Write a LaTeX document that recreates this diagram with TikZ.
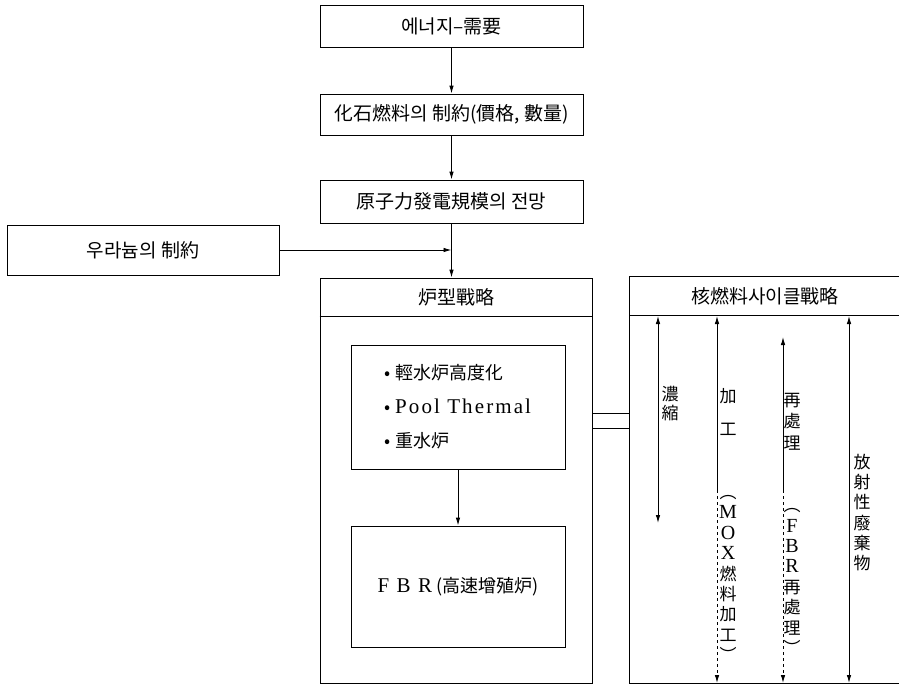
\documentclass[tikz,border=0pt]{standalone}
\usepackage{fontspec}
\setmainfont{Noto Sans CJK KR}
\newfontfamily\lat[LetterSpace=10]{Liberation Serif}
\usetikzlibrary{arrows.meta}
\begin{document}
\begin{tikzpicture}[x=1pt,y=-1pt,
  lw/.style={line width=0.9pt},
  box/.style={draw, line width=0.9pt, inner sep=0pt, align=center, font=\fontsize{19}{22}\selectfont},
  ttl/.style={inner sep=0pt, font=\fontsize{19}{22}\selectfont},
  arr/.style={line width=0.9pt, -{Latex[length=8pt,width=4.5pt]}},
  arrb/.style={line width=0.9pt, {Latex[length=8pt,width=4.5pt]}-{Latex[length=8pt,width=4.5pt]}},
  arrt/.style={line width=0.9pt, {Latex[length=8pt,width=4.5pt]}-},
  vt/.style={align=center, inner sep=0pt, font=\fontsize{17}{#1}\selectfont}]
\useasboundingbox (0,0) rectangle (899,685);
% top chain
\node[box, minimum width=263pt, minimum height=42pt] (e1) at (451.5,26) {에너지–需要};
\node[box, minimum width=263pt, minimum height=41pt] (e2) at (451.5,114.5) {化石燃料의 制約(價格, 數量)};
\node[box, minimum width=263pt, minimum height=43pt] (e3) at (451.5,201.5) {原子力發電規模의 전망};
\node[box, minimum width=272pt, minimum height=50pt] (ur) at (143,250) {우라늄의 制約};
% reactor strategy box
\node[box, minimum width=272pt, minimum height=405pt] (rt) at (456,480.5) {};
\node[ttl] (rtt) at (456,297.5) {炉型戰略};
\draw[lw] ([yshift=-39pt]rt.north west) -- ([yshift=-39pt]rt.north east);
\node[box, minimum width=214pt, minimum height=124pt, font=\fontsize{18}{34}\selectfont, align=left] (lwr) at (458,407)
  {• 輕水炉高度化\\• {\lat\fontsize{21}{34}\selectfont Pool Thermal}\\• 重水炉};
\node[box, minimum width=214pt, minimum height=121pt, font=\fontsize{18}{22}\selectfont] (fbr) at (458,586.5)
  {{\lat\fontsize{21}{22}\selectfont F B R} (高速增殖炉)};
% fuel cycle strategy box
\node[inner sep=0pt, minimum width=269pt, minimum height=406pt] (fc) at (764.5,480) {};
\draw[lw] (fc.north east) -- (fc.north west) -- (fc.south west) -- (fc.south east);
\node[ttl] (fct) at (765,296.5) {核燃料사이클戰略};
\draw[lw] ([yshift=-39pt]fc.north west) -- ([yshift=-39pt]fc.north east);
% connectors
\draw[arr] (e1) -- (e2);
\draw[arr] (e2) -- (e3);
\draw[arr] (e3.south) -- (e3.south |- rt.north);
\draw[arr] (ur.east) -- (ur.east -| e3.south);
\draw[arr] (lwr) -- (fbr);
\draw[lw] (rt.east |- 0,413) -- (fc.west |- 0,413);
\draw[lw] (rt.east |- 0,428) -- (fc.west |- 0,428);
% vertical arrows
\coordinate (a1t) at (658,316); \coordinate (a1b) at (658,523);
\coordinate (a2t) at (717,316); \coordinate (a2m) at (717,490); \coordinate (a2b) at (717,683);
\coordinate (a3t) at (783,337); \coordinate (a3m) at (783,490); \coordinate (a3b) at (783,683);
\coordinate (a4t) at (849,316); \coordinate (a4b) at (849,683);
\draw[arrb] (a1t) -- (a1b);
\draw[arrt] (a2t) -- (a2m);
\draw[arr, dashed] (a2m) -- (a2b);
\draw[arrt] (a3t) -- (a3m);
\draw[arr, dashed] (a3m) -- (a3b);
\draw[arrb] (a4t) -- (a4b);
% vertical labels
\node[vt=19] (t1) at (670,403.5) {濃\\縮};
\node[vt=33] (t2) at (728,411.5) {加\\工};
\node[vt=20.4] (t3) at (728,578.5) {︵\\{\lat\fontsize{20}{20.4}\selectfont M}\\{\lat\fontsize{20}{20.4}\selectfont O}\\{\lat\fontsize{20}{20.4}\selectfont X}\\燃\\料\\加\\工\\︶};
\node[vt=21.5] (t4) at (792,421.5) {再\\處\\理};
\node[vt=20.4] (t5) at (792,581.5) {︵\\{\lat\fontsize{20}{20.4}\selectfont F}\\{\lat\fontsize{20}{20.4}\selectfont B}\\{\lat\fontsize{20}{20.4}\selectfont R}\\再\\處\\理\\︶};
\node[vt=20.2] (t6) at (862,512.5) {放\\射\\性\\廢\\棄\\物};
\end{tikzpicture}
\end{document}
